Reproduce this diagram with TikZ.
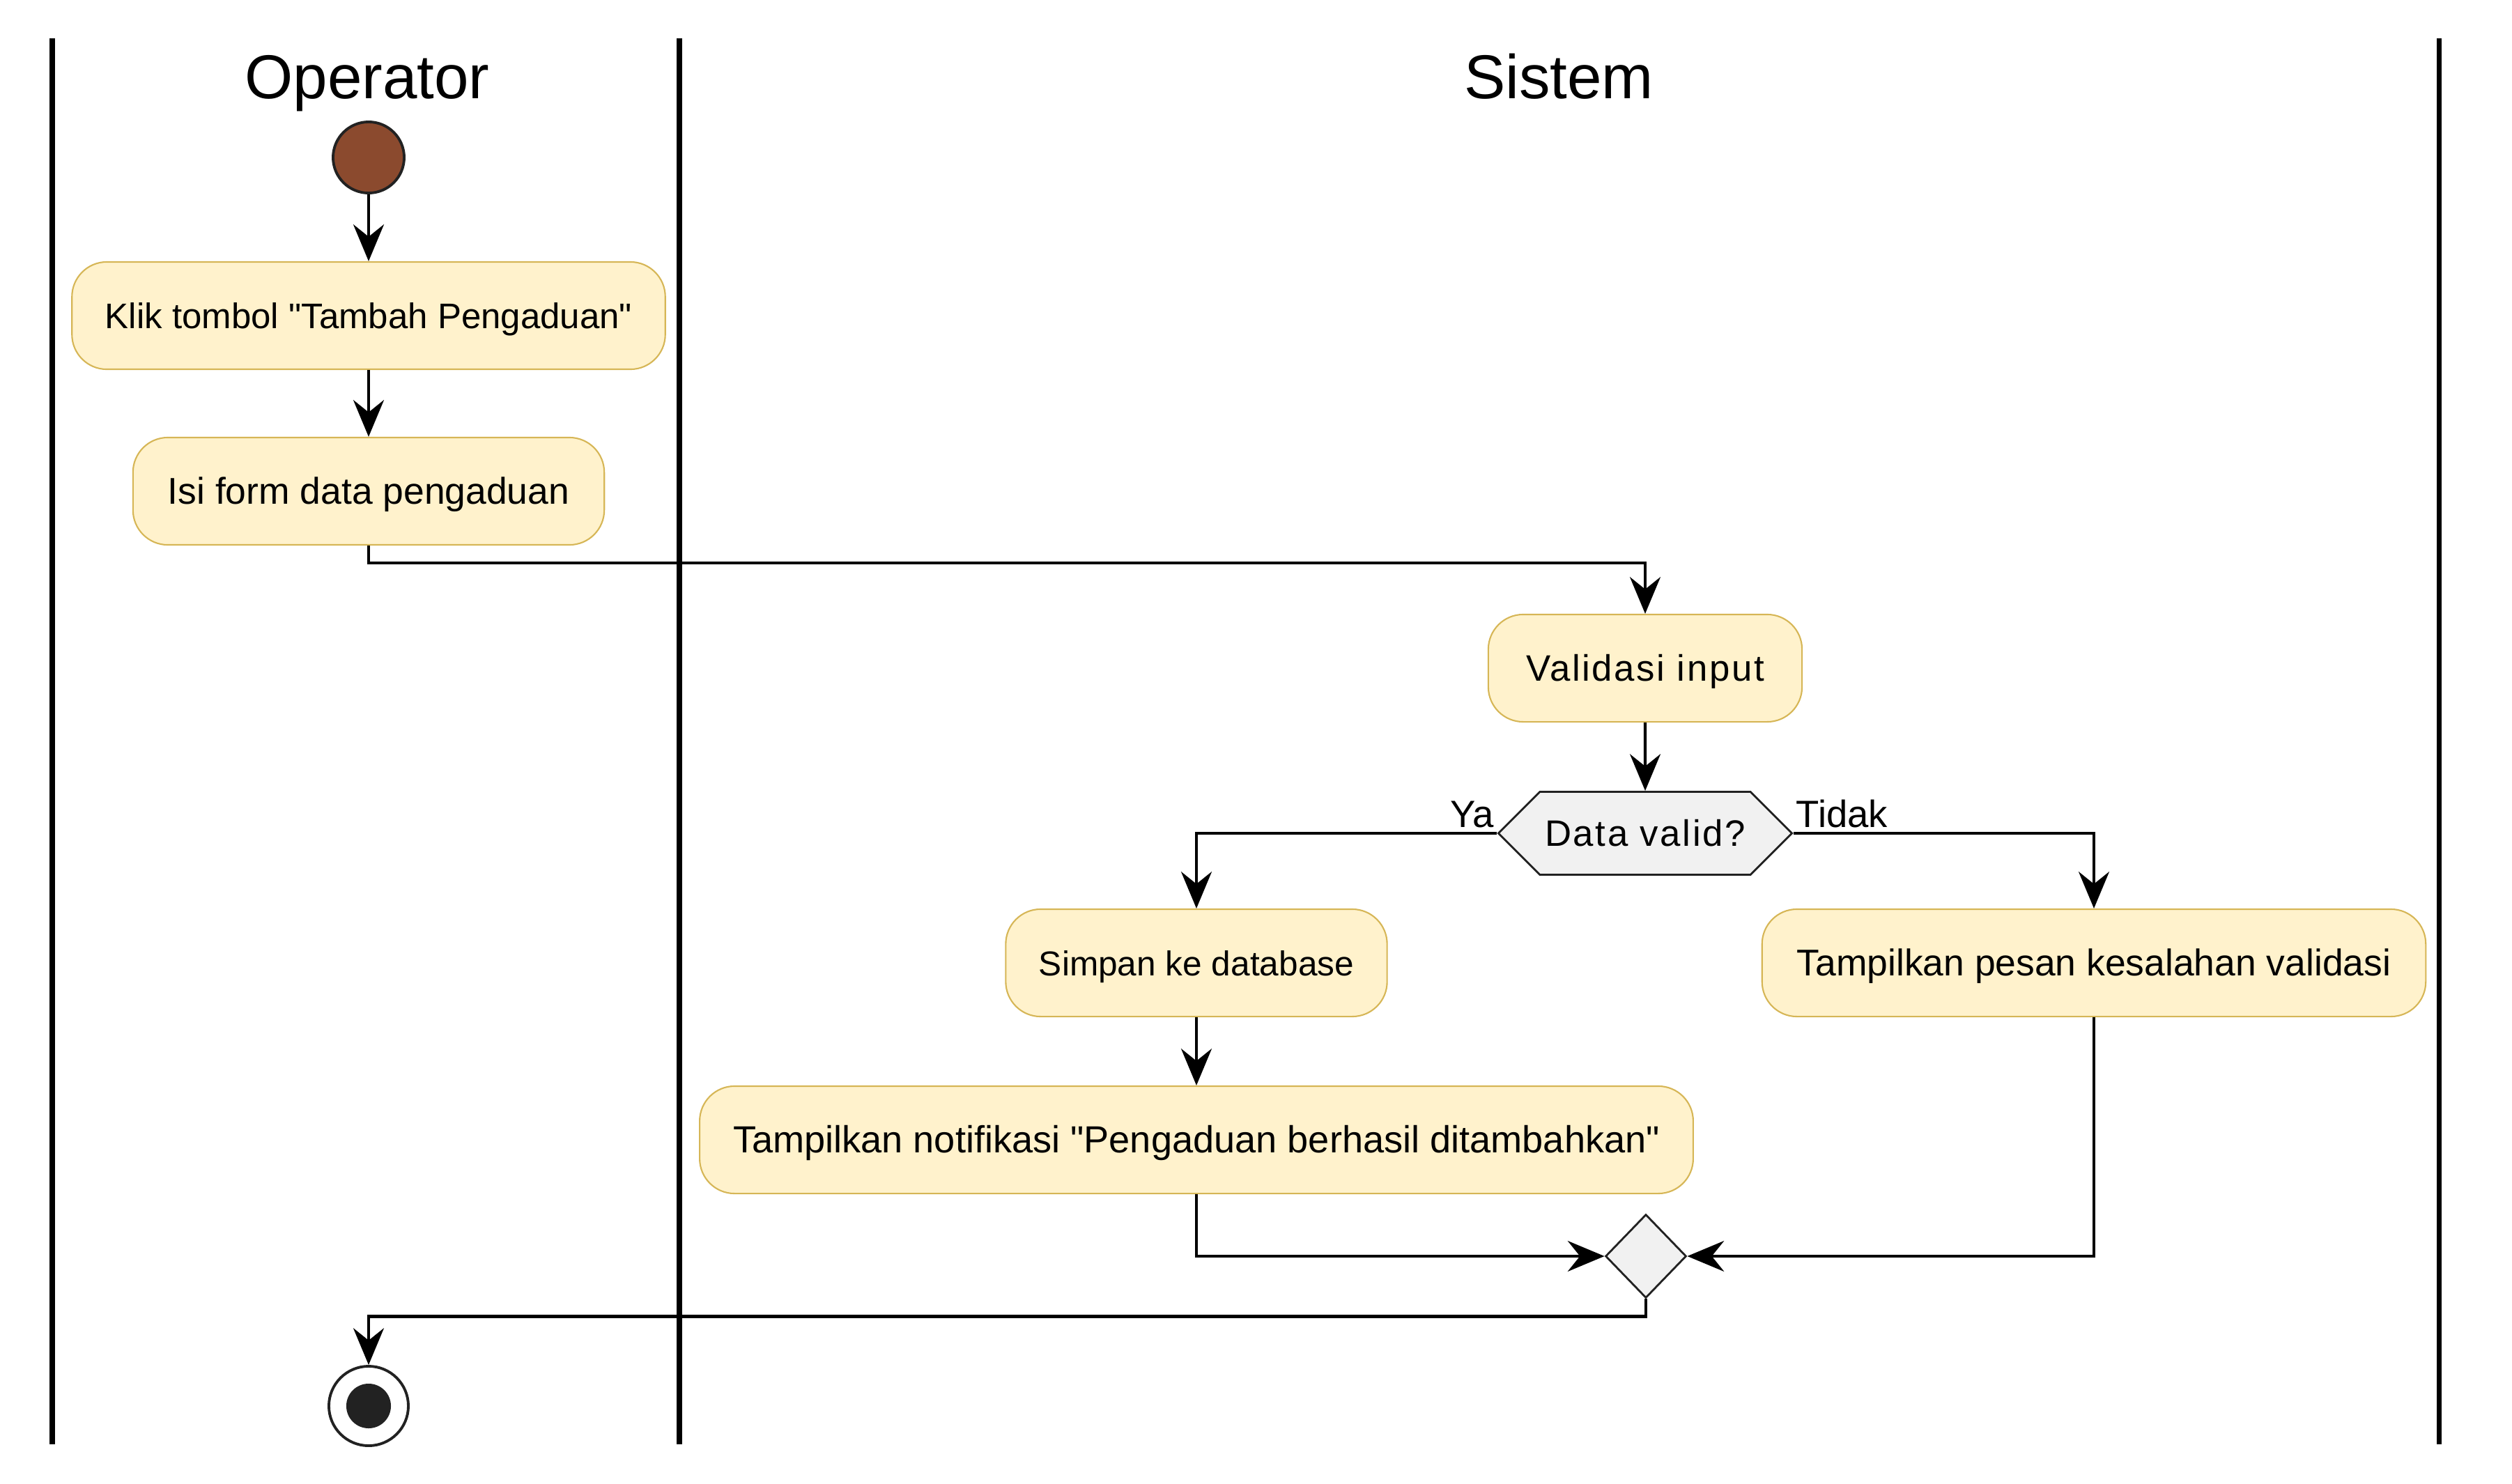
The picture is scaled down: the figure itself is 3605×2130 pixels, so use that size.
\documentclass[tikz,border=0pt]{standalone}
\usepackage{fontspec}
\setmainfont{Liberation Sans}
\usetikzlibrary{arrows.meta,shapes.geometric,shapes.symbols}

\definecolor{actfill}{HTML}{FFF2CC}
\definecolor{actline}{HTML}{D6B656}
\definecolor{decfill}{HTML}{F1F1F1}
\definecolor{startfill}{HTML}{8B4A2E}
\definecolor{dark}{HTML}{222222}

\tikzset{
  act/.style={rectangle, rounded corners=0.5cm, draw=actline, fill=actfill, line width=0.6pt,
    minimum height=1.54cm, inner sep=0pt, text height=1.05em, text depth=0pt,
    font=\fontsize{#1}{18}\selectfont},
  act/.default=14.5,
  spaced/.style={font=\fontsize{15}{18}\selectfont\addfontfeature{LetterSpace=5}},
  flow/.style={line width=1.2pt, -{Stealth[length=15pt,width=12.5pt,inset=5pt]}},
  lane/.style={line width=2pt},
  lanetitle/.style={font=\fontsize{25.3}{30}\selectfont, inner sep=0pt},
  lbl/.style={font=\fontsize{15.5}{18}\selectfont, inner sep=1pt},
}

\begin{document}
\begin{tikzpicture}[x=0.01cm, y=-0.01cm]
    \useasboundingbox (0,0) rectangle (3605,2130);
    % swimlanes
    \draw[lane] (75,55) -- (75,2073);
    \draw[lane] (975,55) -- (975,2073);
    \draw[lane] (3500,55) -- (3500,2073);
    \node[lanetitle, anchor=base] (opTitle) at (527,141) {Operator};
    \node[lanetitle, anchor=base] (sysTitle) at (2237,141) {Sistem};

    % activities
    \node[circle, draw=dark, fill=startfill, line width=1.1pt, minimum size=1.02cm, inner sep=0pt] (start) at (529,226) {};
    \node[act, minimum width=8.51cm] (klik) at (529,453) {Klik tombol \textquotedbl Tambah Pengaduan\textquotedbl};
    \node[act=15.2, minimum width=6.76cm] (isi) at (529,705) {Isi form data pengaduan};
    \node[act, spaced, minimum width=4.5cm] (validasi) at (2361,959) {Validasi input};
    \node[signal, signal to=west and east, signal pointer angle=90, draw=dark, fill=decfill, line width=0.8pt,
      minimum width=4.21cm, minimum height=1.19cm, inner sep=0pt, spaced] (cek) at (2361,1196) {Data valid?};
    \node[lbl, anchor=base east] (ya) at ([yshift=2.5pt]cek.west) {Ya};
    \node[lbl, anchor=base west] (tidak) at ([yshift=2.5pt]cek.east) {Tidak};
    \node[act=14.1, minimum width=5.47cm] (simpan) at (1717,1382) {Simpan ke database};
    \node[act=15.4, minimum width=14.25cm] (notif) at (1717,1636) {Tampilkan notifikasi \textquotedbl Pengaduan berhasil ditambahkan\textquotedbl};
    \node[act=15.2, minimum width=9.52cm] (pesan) at (3005,1382) {Tampilkan pesan kesalahan validasi};
    \node[diamond, draw=dark, fill=decfill, line width=0.8pt, minimum width=1.16cm, minimum height=1.2cm, inner sep=0pt] (gabung) at (2362,1803) {};
    \node[circle, draw=dark, fill=white, line width=1.1pt, minimum size=1.14cm, inner sep=0pt] (stop) at (529,2018) {};
    \node[circle, fill=dark, minimum size=0.64cm, inner sep=0pt] (stopDot) at (stop.center) {};

    % flows
    \draw[flow] (start) -- (klik);
    \draw[flow] (klik) -- (isi);
    \draw[flow] (isi.south) -- ++(0,25) -| (validasi.north);
    \draw[flow] (validasi) -- (cek);
    \draw[flow] (cek.west) -| (simpan.north);
    \draw[flow] (cek.east) -| (pesan.north);
    \draw[flow] (simpan) -- (notif);
    \draw[flow] (notif.south) |- (gabung.west);
    \draw[flow] (pesan.south) |- (gabung.east);
    \draw[flow] (gabung.south) -- ++(0,25) -| (stop.north);
\end{tikzpicture}
\end{document}
